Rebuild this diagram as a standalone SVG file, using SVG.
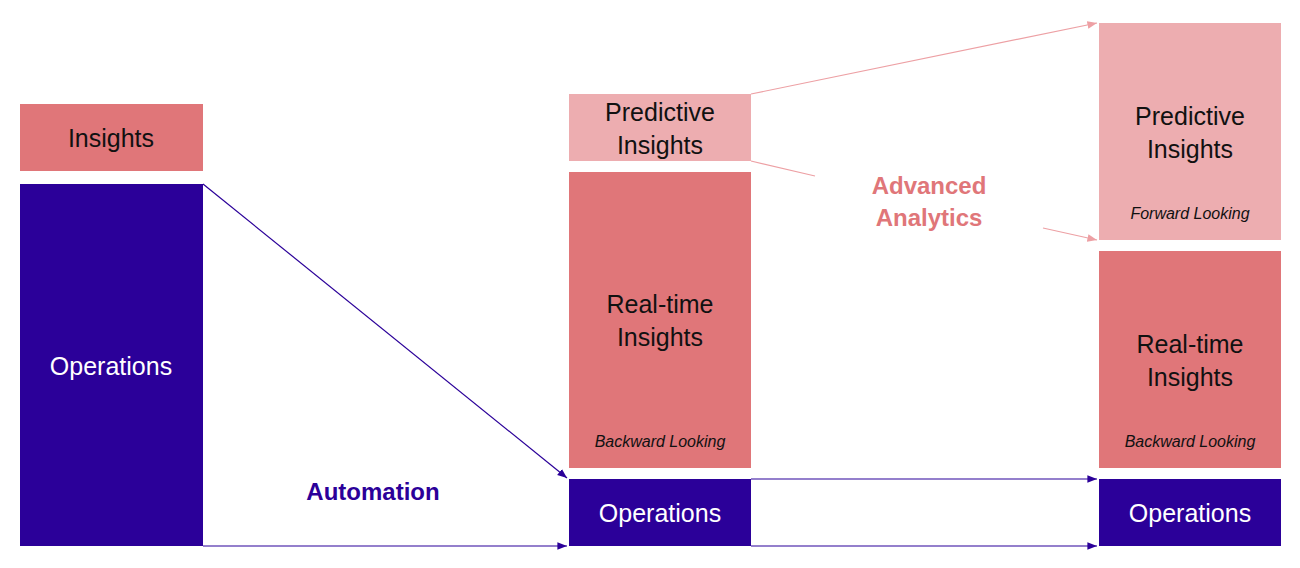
<svg xmlns="http://www.w3.org/2000/svg" width="1300" height="568" viewBox="0 0 1300 568">
<style>
text{font-family:"Liberation Sans Narrow","Liberation Sans",Arial,sans-serif;text-anchor:middle}
.t{font-size:25px}
.w{fill:#fff}
.k{fill:#111}
.s{font-size:16px;font-style:italic;fill:#111}
.op{fill:#2B0099}
.mid{fill:#E07679}
.lt{fill:#EDADB0}
.bl{stroke:#2B0099;stroke-width:1.2;fill:none}
.pk{stroke:#EDA0A4;stroke-width:1.2;fill:none}
</style>
<defs>
<marker id="ab" viewBox="0 0 10 10" refX="10" refY="5" markerWidth="8" markerHeight="8" orient="auto"><path d="M0,1L10,5L0,9z" fill="#2B0099"/></marker>
<marker id="ap" viewBox="0 0 10 10" refX="10" refY="5" markerWidth="8" markerHeight="8" orient="auto"><path d="M0,1L10,5L0,9z" fill="#EDA0A4"/></marker>
</defs>
<rect width="1300" height="568" fill="#fff"/>
<g id="insights-left"><rect class="mid" x="20" y="104" width="183" height="67"/><text class="t k" x="111" y="147">Insights</text></g>
<g id="operations-left"><rect class="op" x="20" y="184" width="183" height="362"/><text class="t w" x="111" y="375">Operations</text></g>
<g id="predictive-mid"><rect class="lt" x="569" y="94" width="182" height="67"/><text class="t k" x="660" y="121">Predictive</text><text class="t k" x="660" y="154">Insights</text></g>
<g id="realtime-mid"><rect class="mid" x="569" y="172" width="182" height="296"/><text class="t k" x="660" y="313">Real-time</text><text class="t k" x="660" y="346">Insights</text><text class="s" x="660" y="447">Backward Looking</text></g>
<g id="operations-mid"><rect class="op" x="569" y="479" width="182" height="67"/><text class="t w" x="660" y="522">Operations</text></g>
<g id="predictive-right"><rect class="lt" x="1099" y="23" width="182" height="217"/><text class="t k" x="1190" y="125">Predictive</text><text class="t k" x="1190" y="158">Insights</text><text class="s" x="1190" y="219">Forward Looking</text></g>
<g id="realtime-right"><rect class="mid" x="1099" y="251" width="182" height="217"/><text class="t k" x="1190" y="353">Real-time</text><text class="t k" x="1190" y="386">Insights</text><text class="s" x="1190" y="447">Backward Looking</text></g>
<g id="operations-right"><rect class="op" x="1099" y="479" width="182" height="67"/><text class="t w" x="1190" y="522">Operations</text></g>
<g id="connectors">
<line class="bl" x1="203" y1="184" x2="567" y2="478" marker-end="url(#ab)"/>
<line class="bl" x1="203" y1="546" x2="567" y2="546" marker-end="url(#ab)"/>
<line class="bl" x1="751" y1="479" x2="1097" y2="479" marker-end="url(#ab)"/>
<line class="bl" x1="751" y1="546" x2="1097" y2="546" marker-end="url(#ab)"/>
<line class="pk" x1="751" y1="94" x2="1097" y2="23" marker-end="url(#ap)"/>
<line class="pk" x1="751" y1="161" x2="815" y2="176"/>
<line class="pk" x1="1043" y1="228" x2="1097" y2="240" marker-end="url(#ap)"/>
<text x="373" y="500" style="font-size:24px;font-weight:bold;fill:#2B0099">Automation</text>
<text x="929" y="194" style="font-size:24px;font-weight:bold;fill:#E07679">Advanced</text>
<text x="929" y="226" style="font-size:24px;font-weight:bold;fill:#E07679">Analytics</text>
</g>
</svg>
